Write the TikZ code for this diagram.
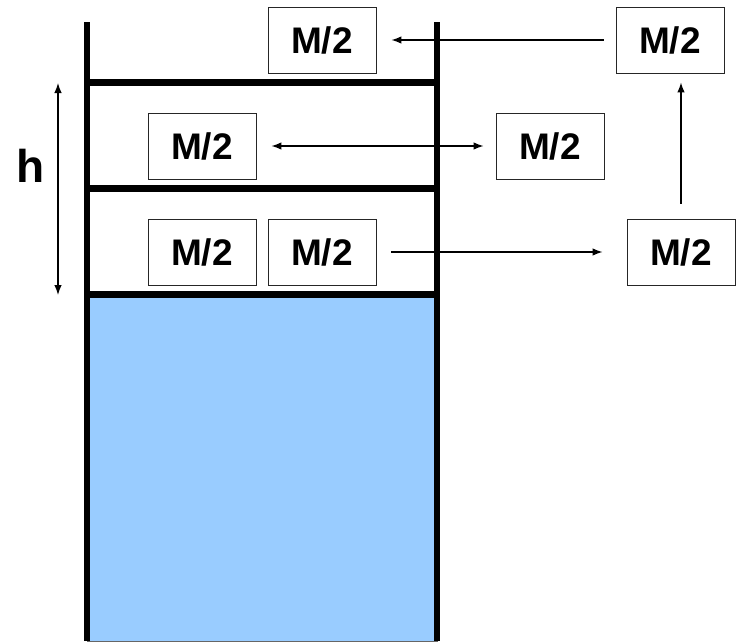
\documentclass[tikz,border=0pt]{standalone}
\usepackage{fontspec}
\setmainfont{Liberation Sans}
\usetikzlibrary{arrows.meta}
\definecolor{water}{HTML}{99CCFF}
\begin{document}
\begin{tikzpicture}[x=1pt,y=-1pt,
  box/.style={draw=black!85, line width=0.9pt, fill=white, minimum width=108pt, minimum height=66pt, inner sep=0pt, font=\fontsize{37}{40}\selectfont\bfseries},
  arr/.style={line width=1.3pt, -{Latex[length=10pt,width=7.5pt]}},
  darr/.style={line width=1.3pt, {Latex[length=10pt,width=7.5pt]}-{Latex[length=10pt,width=7.5pt]}},
  wall/.style={line width=6.5pt},
  shelf/.style={line width=7pt}]
\useasboundingbox (0,0) rectangle (745,643);
% water
\fill[water, draw=black!60, line width=0.8pt] (87,294) rectangle (437,641);
% shelves
\draw[shelf] (87,82) -- (437,82);
\draw[shelf] (87,188) -- (437,188);
\draw[shelf] (87,294) -- (437,294);
% walls
\draw[wall] (87,22) -- (87,641);
\draw[wall] (437,22) -- (437,641);
% boxes
\node[box] (t) at (322,40) {M/2};
\node[box] (tr) at (670,40) {M/2};
\node[box] (ml) at (202,146) {M/2};
\node[box] (mr) at (550,146) {M/2};
\node[box] (b1) at (202,252) {M/2};
\node[box] (b2) at (322,252) {M/2};
\node[box] (br) at (681,252) {M/2};
% arrows
\draw[arr, shorten <=12pt, shorten >=15pt] (tr) -- (t);
\draw[darr, shorten <=15pt, shorten >=12pt] (ml) -- (mr);
\draw[arr, shorten <=15pt, shorten >=24pt] (b2) -- (br);
\coordinate (vt) at (tr.south -| br.north);
\draw[arr, shorten <=15pt, shorten >=9pt] (br.north) -- (vt);
% h
\coordinate (ha) at (58,83);
\coordinate (hb) at (58,295);
\draw[darr] (ha) -- (hb);
\node[font=\fontsize{46}{50}\selectfont\bfseries] (h) at (31,166) {h};
\end{tikzpicture}
\end{document}
